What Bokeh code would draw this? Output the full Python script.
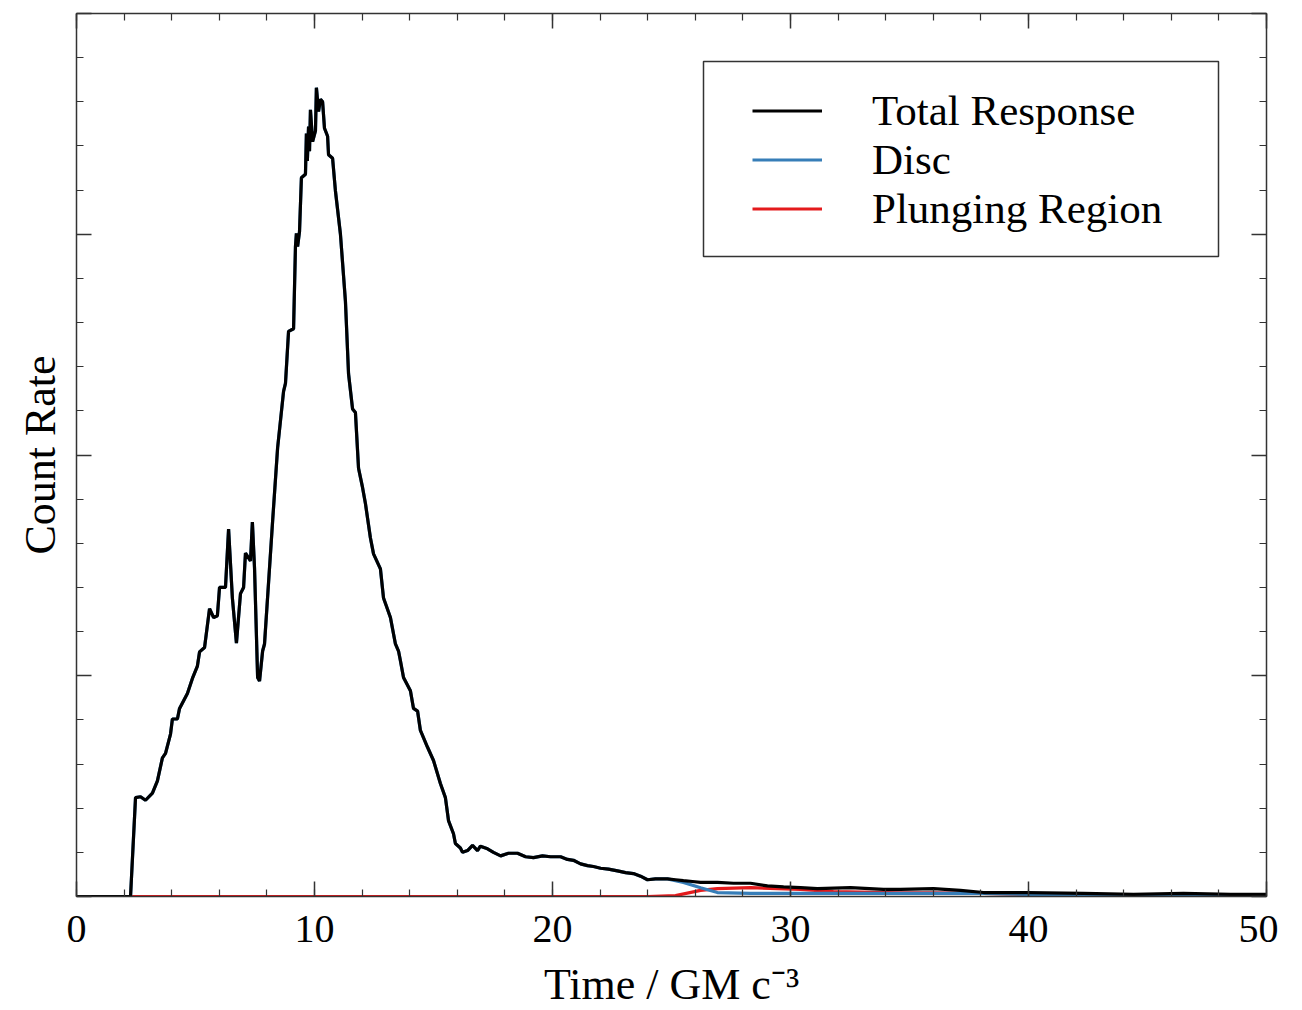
from bokeh.plotting import figure
from bokeh.models import (Range1d, LinearAxis, SingleIntervalTicker, Legend,
                          LegendItem, BoxAnnotation, CustomLabelingPolicy)
from bokeh.embed import file_html
from bokeh.resources import INLINE

FONT = "Liberation Serif"

# ---- data ----
total_t = [0.00, 2.27, 2.48, 2.69, 2.90, 3.19, 3.40, 3.61, 3.74, 3.95, 4.03, 4.24,
           4.33, 4.66, 4.87, 5.08, 5.17, 5.38, 5.59, 5.76, 5.92, 6.01, 6.26, 6.39,
           6.55, 6.72, 6.89, 7.02, 7.10, 7.31, 7.39, 7.48, 7.61, 7.69, 7.82, 7.90,
           8.24, 8.45, 8.70, 8.78, 8.91, 9.12, 9.20, 9.24, 9.29, 9.37, 9.45, 9.62,
           9.66, 9.70, 9.75, 9.79, 9.83, 9.92, 10.04, 10.08, 10.17, 10.25, 10.34,
           10.42, 10.55, 10.59, 10.76, 10.88, 11.09, 11.30, 11.43, 11.60, 11.72,
           11.85, 12.02, 12.14, 12.35, 12.48, 12.77, 12.90, 13.19, 13.40, 13.53,
           13.61, 13.74, 14.03, 14.16, 14.33, 14.45, 14.75, 15.00, 15.29, 15.50,
           15.63, 15.84, 15.92, 16.13, 16.22, 16.43, 16.64, 16.85, 16.97, 17.27,
           17.52, 17.82, 18.15, 18.53, 18.87, 19.20, 19.58, 19.92, 20.34, 20.63,
           20.88, 21.18, 21.47, 21.72, 22.02, 22.35, 22.73, 23.07, 23.40, 23.70,
           23.99, 24.33, 24.83, 25.17, 25.50, 25.88, 26.22, 26.93, 27.61, 28.32,
           29.03, 29.71, 30.42, 31.13, 32.52, 33.91, 34.62, 36.01, 37.14, 38.11,
           39.96, 42.31, 44.41, 46.51, 48.49, 50.00]
total_v = [0.0, 0.0, 11.2, 11.3, 10.9, 11.7, 13.1, 15.7, 16.2, 18.4, 20.1, 20.1,
           21.3, 23.0, 24.7, 26.1, 27.7, 28.2, 32.6, 31.6, 31.8, 35.0, 35.0, 41.6,
           33.8, 28.7, 34.3, 35.0, 38.9, 38.0, 42.4, 37.2, 24.8, 24.4, 27.8, 28.6,
           42.5, 50.8, 57.2, 58.1, 64.0, 64.3, 73.6, 75.1, 73.6, 75.3, 81.4, 81.8,
           86.4, 83.3, 87.2, 84.4, 89.1, 85.5, 86.7, 91.6, 88.9, 90.3, 90.0,
           87.0, 86.1, 84.0, 83.6, 79.9, 75.0, 67.4, 59.2, 55.2, 54.8,
           48.5, 46.3, 44.5, 40.6, 38.8, 37.1, 33.8, 31.6, 28.6, 27.8,
           26.7, 24.8, 23.3, 21.3, 21.0, 18.8, 16.9, 15.4, 12.8, 11.2,
           8.6, 7.1, 6.0, 5.5, 5.0, 5.2, 5.8, 5.2, 5.7, 5.4,
           5.0, 4.6, 4.9, 4.9, 4.5, 4.4, 4.6, 4.5, 4.5, 4.2,
           4.1, 3.7, 3.5, 3.4, 3.2, 3.1, 2.9, 2.7, 2.6, 2.3,
           1.9, 2.0, 2.0, 1.9, 1.8, 1.7, 1.6, 1.6, 1.5, 1.5,
           1.2, 1.1, 1.0, 0.9, 1.0, 0.8, 0.8, 0.9, 0.7, 0.45,
           0.45, 0.35, 0.25, 0.35, 0.25, 0.25]

# disc follows the total until the plunging region switches on
disc_tail_t = [25.50, 26.22, 26.93, 28.32, 30.42, 34.62, 38.11, 39.96, 42.31, 46.51, 50.00]
disc_tail_v = [1.6, 1.0, 0.45, 0.35, 0.35, 0.35, 0.35, 0.25, 0.1, 0.05, 0.0]
disc_t = [t for t in total_t if t <= 24.83] + disc_tail_t
disc_v = [v for t, v in zip(total_t, total_v) if t <= 24.83] + disc_tail_v

plunge_t = [0.00, 23.99, 25.17, 26.22, 26.93, 28.32, 30.42, 31.80, 34.62, 36.00,
            38.11, 39.96, 42.31, 46.51, 50.00]
plunge_v = [0.0, 0.0, 0.1, 0.7, 0.9, 1.0, 0.8, 0.55, 0.4, 0.4,
            0.35, 0.25, 0.1, 0.03, 0.0]

labels = ["Total Response", "Disc", "Plunging Region"]
colors = ["#000000", "#377eb8", "#e41a1c"]
x_title = "Time / GM c\u207b\u00b3"
y_title = "Count Rate"

# ---- figure ----
p = figure(frame_width=1190, frame_height=883, output_backend="svg",
           toolbar_location=None, x_range=Range1d(0, 50), y_range=Range1d(0, 100),
           min_border_left=76, min_border_top=13, min_border_right=12,
           min_border_bottom=0)
p.title.visible = False
p.xgrid.visible = False
p.ygrid.visible = False
p.outline_line_color = None
p.background_fill_color = "white"
p.border_fill_color = "white"

AX = "#333333"


def style(ax, show_labels):
    ax.major_tick_in = 15
    ax.major_tick_out = 0
    ax.minor_tick_in = 7
    ax.minor_tick_out = 0
    ax.axis_line_color = AX
    ax.axis_line_width = 1.5
    ax.major_tick_line_color = AX
    ax.major_tick_line_width = 1.5
    ax.minor_tick_line_color = AX
    ax.minor_tick_line_width = 1.2
    ax.major_label_text_font = FONT
    ax.major_label_text_color = "black"
    ax.axis_label_text_font = FONT
    ax.axis_label_text_font_style = "normal"
    ax.axis_label_text_color = "black"
    if not show_labels:
        ax.major_label_text_font_size = "0px"
        ax.major_label_standoff = 0
        ax.major_label_policy = CustomLabelingPolicy(code="return []")


p.xaxis.ticker = SingleIntervalTicker(interval=10, num_minor_ticks=5)
p.yaxis.ticker = SingleIntervalTicker(interval=25, num_minor_ticks=5)
style(p.xaxis[0], True)
style(p.yaxis[0], False)
p.xaxis.major_label_text_font_size = "40px"
p.xaxis.major_label_standoff = 19
p.xaxis.axis_label = x_title
p.xaxis.axis_label_text_font_size = "44px"
p.xaxis.axis_label_standoff = 15
p.yaxis.axis_label = y_title
p.yaxis.axis_label_text_font_size = "44px"
p.yaxis.axis_label_standoff = 12

top = LinearAxis(ticker=SingleIntervalTicker(interval=10, num_minor_ticks=5))
style(top, False)
p.add_layout(top, "above")
right = LinearAxis(ticker=SingleIntervalTicker(interval=25, num_minor_ticks=5))
style(right, False)
p.add_layout(right, "right")

# ---- lines ----
r_red = p.line(plunge_t, plunge_v, line_color=colors[2], line_width=3.2)
r_blue = p.line(disc_t, disc_v, line_color=colors[1], line_width=3.2)
r_black = p.line(total_t, total_v, line_color=colors[0], line_width=3.2)

legend = Legend(
    items=[LegendItem(label=labels[0], renderers=[r_black]),
           LegendItem(label=labels[1], renderers=[r_blue]),
           LegendItem(label=labels[2], renderers=[r_red])],
    location=(676, 663.5), padding=0, label_standoff=50, glyph_width=70,
    glyph_height=45, label_height=45, spacing=0, label_width=296,
    label_text_font=FONT, label_text_font_size="43px", label_text_color="black",
    border_line_color=None, background_fill_color=None)
p.add_layout(legend)

box = BoxAnnotation(left=627, right=1142, top=835, bottom=640,
                    left_units="screen", right_units="screen",
                    top_units="screen", bottom_units="screen",
                    fill_color=None, line_color=AX, line_alpha=1.0, line_width=1.5)
p.add_layout(box)

open("out.html", "w").write(file_html(p, INLINE))
